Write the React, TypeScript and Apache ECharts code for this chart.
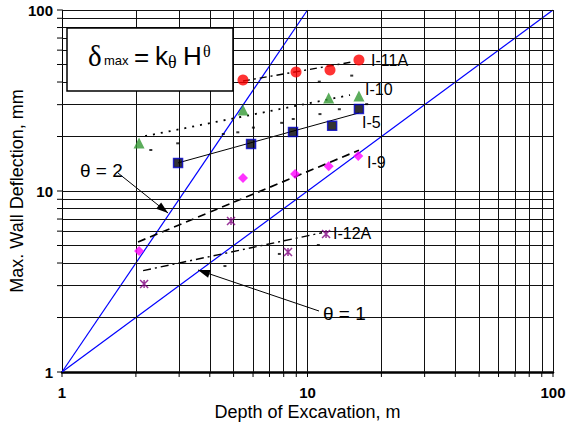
import React, { useEffect, useRef } from "react";
import * as echarts from "echarts";

// ---- data ----
const gridValues = [2, 3, 4, 5, 6, 7, 8, 9, 10, 20, 30, 40, 50, 60, 70, 80, 90, 100];
const tickValues = [1, 2, 3, 4, 5, 6, 7, 8, 9, 10, 20, 30, 40, 50, 60, 70, 80, 90, 100];
const labelTicks = [1, 10, 100];

const i11aPoints = [[5.46, 41.0], [8.98, 45.5], [12.35, 46.6], [16.2, 52.9]];
const i11aTrend = [[5.46, 40.5], [15.18, 51.6]];
const i10Points = [[2.06, 18.4], [5.46, 28.0], [12.2, 32.6], [16.2, 33.5]];
const i10Trend = [[2.18, 20.1], [14.9, 33.9]];
const i5Points = [[2.97, 14.3], [5.89, 18.2], [8.73, 21.2], [12.6, 22.9], [16.2, 28.4]];
const i5Trend = [[2.97, 14.3], [16.2, 27.0]];
const i9Points = [[2.06, 4.66], [5.46, 11.8], [8.9, 12.4], [12.2, 13.7], [16.1, 15.6]];
const i9Trend = [[2.04, 5.23], [16.2, 16.8]];
const i12aPoints = [[2.16, 3.06], [4.88, 6.83], [8.33, 4.6], [11.9, 5.79]];
const i12aTrend = [[2.14, 3.63], [11.46, 5.88]];
const theta2Line = [[1, 1], [10, 100]];
const theta1Line = [[1, 1], [100, 100]];
const strayMarks = [
  [2.3, 16.85], [2.96, 18.34], [4.54, 20.65], [5.2, 21.1], [6.02, 22.4],
  [7.85, 23.8], [8.75, 25.0], [11.24, 26.6], [13.48, 28.3], [17.42, 30.2],
  [11.17, 40.2], [15.14, 43.4],
  [4.61, 3.85], [7.68, 4.49], [11.07, 5.03],
];

const SANS = '"Liberation Sans", Arial, sans-serif';
const SERIF = '"Liberation Serif", "Times New Roman", serif';

function arrowHead(fx: number, fy: number, tx: number, ty: number, len = 12, half = 4) {
  const dx = tx - fx, dy = ty - fy;
  const d = Math.hypot(dx, dy);
  const ux = dx / d, uy = dy / d;
  const bx = tx - ux * len, by = ty - uy * len;
  return [[tx, ty], [bx - uy * half, by + ux * half], [bx + uy * half, by - ux * half]];
}

function txt(text: string, x: number, y: number, font: string, align = "left") {
  return {
    type: "text",
    z: 110,
    style: {
      text, x, y, font, fill: "#000",
      textAlign: align, align, textVerticalAlign: "middle", verticalAlign: "middle",
    },
  };
}

export default function App() {
  const ref = useRef<HTMLDivElement>(null);
  useEffect(() => {
    if (!ref.current) return;
    const chart = echarts.init(ref.current, null, { renderer: "svg" });
    const gridLineStyle = { type: "solid", color: "#111", width: 1 };
    const trend = (data: number[][], type: any, width = 1.2, z = 4) => ({
      type: "line", data, symbol: "none", silent: true, z,
      lineStyle: { color: "#000", width, type },
    });
    const option: any = {
      animation: false,
      backgroundColor: "#fff",
      grid: { left: 62, right: 13, top: 10, bottom: 56, containLabel: false, outerBoundsMode: "none" },
      xAxis: {
        type: "log", logBase: 10, min: 1, max: 100,
        name: "Depth of Excavation, m", nameLocation: "middle", nameGap: 31, nameMoveOverlap: false,
        nameTextStyle: { fontFamily: SANS, fontSize: 18, color: "#000" },
        axisLine: { show: true, lineStyle: { color: "#000", width: 2.5 } },
        axisTick: { show: false },
        splitLine: { show: false },
        axisLabel: {
          fontFamily: SANS, fontSize: 15, fontWeight: "bold", color: "#000", margin: 13,
          formatter: (v: number) => (labelTicks.includes(Math.round(v)) ? String(Math.round(v)) : ""),
        },
      },
      yAxis: {
        type: "log", logBase: 10, min: 1, max: 100,
        name: "Max. Wall Deflection, mm", nameLocation: "middle", nameGap: 36, nameMoveOverlap: false,
        nameTextStyle: { fontFamily: SANS, fontSize: 18, color: "#000" },
        axisLine: { show: true, lineStyle: { color: "#000", width: 1 } },
        axisTick: { show: false },
        splitLine: { show: false },
        axisLabel: {
          fontFamily: SANS, fontSize: 15, fontWeight: "bold", color: "#000", margin: 9,
          formatter: (v: number) => (labelTicks.includes(Math.round(v)) ? String(Math.round(v)) : ""),
        },
      },
      series: [
        {
          type: "line", data: [[1, 1]], symbol: "none", silent: true, z: 1,
          lineStyle: { opacity: 0 },
          markLine: {
            silent: true, symbol: ["none", "none"], label: { show: false },
            lineStyle: gridLineStyle, animation: false,
            emphasis: { disabled: true },
            data: [
              ...gridValues.map((v) => ({ xAxis: v })),
              ...gridValues.map((v) => ({ yAxis: v })),
            ],
          },
        },
        { type: "line", data: theta2Line, symbol: "none", silent: true, z: 3, lineStyle: { color: "#0000ff", width: 1.2 } },
        { type: "line", data: theta1Line, symbol: "none", silent: true, z: 3, lineStyle: { color: "#0000ff", width: 1.2 } },
        trend(i11aTrend, [7, 4, 2, 4], 1.4),
        trend(i10Trend, [2, 6], 1.8),
        trend(i5Trend, "solid", 1),
        trend(i9Trend, [8, 5], 1.7),
        trend(i12aTrend, [8, 4, 2, 4], 1.4),
        {
          type: "scatter", data: strayMarks, symbol: "rect", symbolSize: [3, 2], z: 5, silent: true,
          itemStyle: { color: "#000" },
        },
        { type: "scatter", name: "I-11A", data: i11aPoints, symbol: "circle", symbolSize: 11, z: 6, itemStyle: { color: "#ff0000" } },
        { type: "scatter", name: "I-10", data: i10Points, symbol: "triangle", symbolSize: 11, z: 6, itemStyle: { color: "#339933" } },
        { type: "scatter", name: "I-5", data: i5Points, symbol: "rect", symbolSize: 9, z: 6, itemStyle: { color: "#000", borderColor: "#0000cc", borderWidth: 1.5 } },
        { type: "scatter", name: "I-9", data: i9Points, symbol: "diamond", symbolSize: 10, z: 6, itemStyle: { color: "#ff00ff" } },
        {
          type: "scatter", name: "I-12A", data: i12aPoints, symbol: "path://M0 0L10 10M10 0L0 10M5 0L5 10", symbolSize: 8, z: 6,
          itemStyle: { color: "rgba(0,0,0,0)", borderColor: "#800080", borderWidth: 1.5 },
        },
      ],
    };
    chart.setOption(option);

    const x0 = chart.convertToPixel({ xAxisIndex: 0 }, 1) as number;
    const y0 = chart.convertToPixel({ yAxisIndex: 0 }, 1) as number;
    const tickEls: any[] = [];
    tickValues.forEach((v) => {
      const px = chart.convertToPixel({ xAxisIndex: 0 }, v) as number;
      tickEls.push({ type: "line", z: 50, shape: { x1: px, y1: y0, x2: px, y2: y0 + 5 }, style: { stroke: "#000", lineWidth: 1 } });
      const py = chart.convertToPixel({ yAxisIndex: 0 }, v) as number;
      tickEls.push({ type: "line", z: 50, shape: { x1: x0 - 5, y1: py, x2: x0, y2: py }, style: { stroke: "#000", lineWidth: 1 } });
    });

    const arrow1 = { from: [118, 173], to: [168, 213] };
    const arrow2 = { from: [319, 311], to: [198, 270] };

    const graphics: any[] = [
      ...tickEls,
      { type: "rect", z: 100, shape: { x: 67, y: 28, width: 166, height: 63 }, style: { fill: "#fff", stroke: "#000", lineWidth: 1.5 } },
      txt("δ", 88, 56, `29px ${SERIF}`),
      txt("max", 104, 60, `13px ${SANS}`),
      txt("=", 134, 57, `26px ${SANS}`),
      txt("k", 155, 56, `26px ${SANS}`),
      txt("θ", 168, 62, `18px ${SERIF}`),
      txt("H", 183, 56, `26px ${SANS}`),
      txt("θ", 203, 51, `16px ${SERIF}`),
      txt("I-11A", 371, 60, `16px ${SANS}`),
      txt("I-10", 365, 89, `16px ${SANS}`),
      txt("I-5", 362, 122, `16px ${SANS}`),
      txt("I-9", 367, 162, `16px ${SANS}`),
      txt("I-12A", 333, 233, `16px ${SANS}`),
      txt("θ = 2", 80, 170, `19px ${SANS}`),
      txt("θ = 1", 323, 313, `19px ${SANS}`),
      { type: "line", z: 100, shape: { x1: arrow1.from[0], y1: arrow1.from[1], x2: arrow1.to[0], y2: arrow1.to[1] }, style: { stroke: "#000", lineWidth: 1 } },
      { type: "polygon", z: 100, shape: { points: arrowHead(arrow1.from[0], arrow1.from[1], arrow1.to[0], arrow1.to[1]) }, style: { fill: "#000" } },
      { type: "line", z: 100, shape: { x1: arrow2.from[0], y1: arrow2.from[1], x2: arrow2.to[0], y2: arrow2.to[1] }, style: { stroke: "#000", lineWidth: 1 } },
      { type: "polygon", z: 100, shape: { points: arrowHead(arrow2.from[0], arrow2.from[1], arrow2.to[0], arrow2.to[1]) }, style: { fill: "#000" } },
    ];
    chart.setOption({ graphic: graphics });
    return () => chart.dispose();
  }, []);
  return (
    <div
      ref={ref}
      style={{ position: "fixed", left: 0, top: 0, width: 566, height: 428, background: "#fff" }}
    />
  );
}
